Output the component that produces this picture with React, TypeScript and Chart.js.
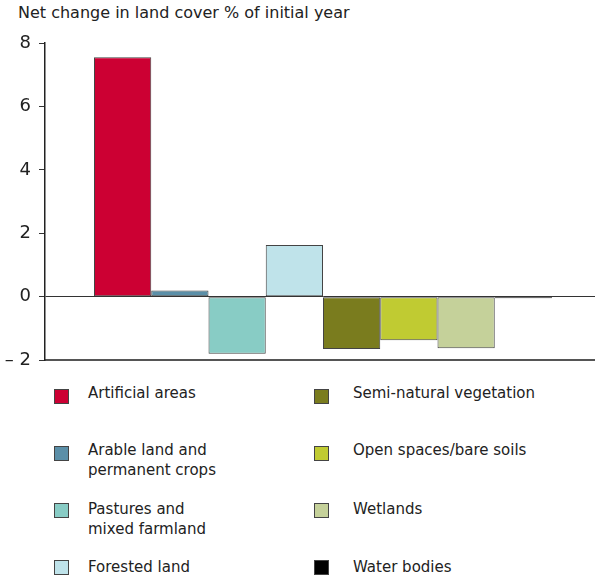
import React, { useEffect, useRef } from "react";
import { Chart, registerables } from "chart.js";

Chart.register(...registerables);

const categories = [
  "Artificial areas",
  "Arable land and permanent crops",
  "Pastures and mixed farmland",
  "Forested land",
  "Semi-natural vegetation",
  "Open spaces/bare soils",
  "Wetlands",
  "Water bodies",
];
const legendLines: string[][] = [
  ["Artificial areas"],
  ["Arable land and", "permanent crops"],
  ["Pastures and", "mixed farmland"],
  ["Forested land"],
  ["Semi-natural vegetation"],
  ["Open spaces/bare soils"],
  ["Wetlands"],
  ["Water bodies"],
];
const values = [7.55, 0.2, -1.8, 1.63, -1.65, -1.37, -1.62, -0.05];
const colors = ["#cc0033", "#5b8fa8", "#88ccc5", "#bfe3ea", "#7a7c1e", "#c0cb32", "#c5d19a", "#000000"];
const yTicks = [-2, 0, 2, 4, 6, 8];
const title = "Net change in land cover % of initial year";

const FONT = "'DejaVu Sans', Verdana, sans-serif";

export default function App() {
  const ref = useRef<HTMLCanvasElement | null>(null);
  useEffect(() => {
    if (!ref.current) return;
    const chart = new Chart(ref.current, {
      type: "bar",
      data: {
        labels: [""],
        datasets: categories.map((c, i) => ({
          label: c,
          data: [values[i]],
          backgroundColor: colors[i],
          borderColor: i === 7 ? "#000" : "#444",
          borderWidth: 1,
          borderSkipped: false,
          barPercentage: 1,
          categoryPercentage: 458 / 556,
        })),
      },
      options: {
        animation: false,
        responsive: false,
        maintainAspectRatio: false,
        layout: { padding: { top: 43, bottom: 12, left: 0, right: 0 } },
        plugins: { legend: { display: false }, title: { display: false }, tooltip: { enabled: false } },
        scales: {
          x: {
            ticks: { display: false },
            grid: { display: false },
            border: { display: true, color: "#555", width: 2 },
            afterFit: (s: any) => { s.height = 0; },
          },
          y: {
            min: -2,
            max: 8,
            afterBuildTicks: (s: any) => { s.ticks = yTicks.map((v) => ({ value: v })); },
            ticks: {
              padding: 8,
              color: "#222",
              font: { family: FONT, size: 18 },
              callback: (v: any) => (Number(v) < 0 ? "– " + Math.abs(Number(v)) : String(v)),
            },
            grid: {
              drawOnChartArea: true,
              tickLength: 6,
              color: (ctx: any) => (ctx.tick && ctx.tick.value === 0 ? "#333" : "rgba(0,0,0,0)"),
              tickColor: "#333",
              lineWidth: 1,
            },
            border: { display: true, color: "#222", width: 1.5 },
            afterFit: (s: any) => { s.width = 45; },
          },
        },
      },
    });
    return () => chart.destroy();
  }, []);

  const rowTops = [386, 443, 500, 557];
  const textShift = [0, 0, 2, 3];
  return (
    <div style={{ position: "absolute", left: 0, top: 0, width: 595, height: 578, overflow: "hidden", fontFamily: FONT, color: "#222", background: "#fff" }}>
      <div style={{ position: "absolute", left: 18, top: 3, fontSize: 16, whiteSpace: "nowrap" }}>{title}</div>
      <canvas ref={ref} width={601} height={379} style={{ position: "absolute", left: 0, top: 0, width: 601, height: 379 }} />
      {categories.map((c, i) => {
        const col = i < 4 ? 0 : 1;
        const row = i % 4;
        const sqX = col === 0 ? 54 : 314;
        const txX = col === 0 ? 88 : 353;
        const top = rowTops[row];
        return (
          <React.Fragment key={c}>
            <div style={{ position: "absolute", left: sqX, top: top + 3, width: 13, height: 13, background: colors[i], border: "1px solid #444" }} />
            <div style={{ position: "absolute", left: txX, top: top - 3 + textShift[row], fontSize: 15, lineHeight: "20px", whiteSpace: "nowrap" }}>
              {legendLines[i].map((l, k) => (<div key={k}>{l}</div>))}
            </div>
          </React.Fragment>
        );
      })}
    </div>
  );
}
